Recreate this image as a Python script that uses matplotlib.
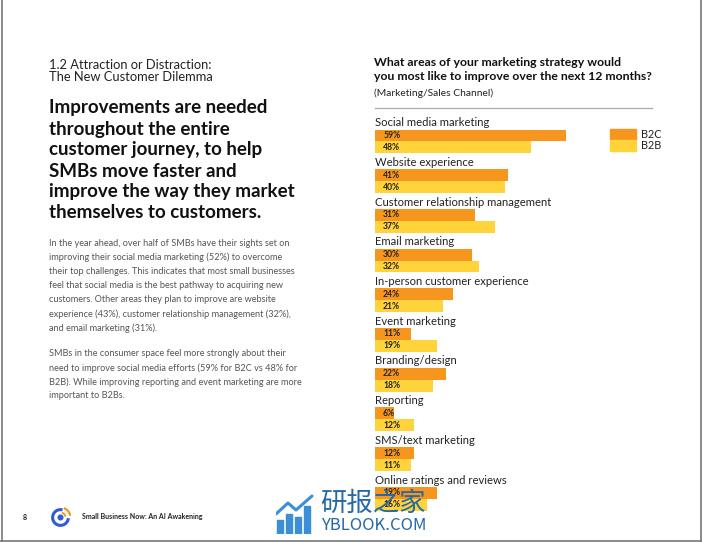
import matplotlib
matplotlib.use('Agg')
import matplotlib.pyplot as plt
import matplotlib.patches as mpatches
from matplotlib.lines import Line2D

W, H = 702, 542

# --- chart data
categories = ['Social media marketing', 'Website experience', 'Customer relationship management',
              'Email marketing', 'In-person customer experience', 'Event marketing',
              'Branding/design', 'Reporting', 'SMS/text marketing', 'Online ratings and reviews']
b2c = [59, 41, 31, 30, 24, 11, 22, 6, 12, 19]
b2b = [48, 40, 37, 32, 21, 19, 18, 12, 11, 16]
series_names = ['B2C', 'B2B']
series_colors = ['#F7961E', '#FFD43B']

# --- page text
section_title = ['1.2 Attraction or Distraction:', 'The New Customer Dilemma']
headline = ['Improvements are needed', 'throughout the entire', 'customer journey, to help',
            'SMBs move faster and', 'improve the way they market', 'themselves to customers.']
para1 = ['In the year ahead, over half of SMBs have their sights set on',
         'improving their social media marketing (52%) to overcome',
         'their top challenges. This indicates that most small businesses',
         'feel that social media is the best pathway to acquiring new',
         'customers. Other areas they plan to improve are website',
         'experience (43%), customer relationship management (32%),',
         'and email marketing (31%).']
para2 = ['SMBs in the consumer space feel more strongly about their',
         'need to improve social media efforts (59% for B2C vs 48% for',
         'B2B). While improving reporting and event marketing are more',
         'important to B2Bs.']
chart_title = ['What areas of your marketing strategy would',
               'you most like to improve over the next 12 months?']
chart_sub = '(Marketing/Sales Channel)'
footer = 'Small Business Now: An AI Awakening'

plt.rcParams['font.family'] = ['Lato', 'DejaVu Sans']


def fx(x):
    return x / W


def fy(y):
    return 1 - y / H


fig = plt.figure(figsize=(W / 100, H / 100), dpi=100)
fig.patch.set_facecolor('white')

### LEFT COLUMN TEXT
for i, line in enumerate(section_title):
    fig.text(fx(49), fy(65 + 12 * i), line, fontsize=9.3, color='#222222', va='center')
for i, line in enumerate(headline):
    fig.text(fx(49), fy(108 + 21 * i), line, fontsize=13.5, fontweight='bold',
             color='#111111', va='center')
for i, line in enumerate(para1):
    fig.text(fx(49), fy(243 + 14.2 * i), line, fontsize=6.6, color='#555555', va='center')
for i, line in enumerate(para2):
    fig.text(fx(49), fy(354 + 14 * i), line, fontsize=6.6, color='#555555', va='center')

### CHART
for i, line in enumerate(chart_title):
    fig.text(fx(374), fy(63 + 14 * i), line, fontsize=8.85, fontweight='bold',
             color='#111111', va='center')
fig.text(fx(374), fy(93), chart_sub, fontsize=7.4, color='#222222', va='center')

step = 39.7
y_top = (108 - 135.5) / step
y_bot = (540 - 135.5) / step
ax = fig.add_axes([fx(375), fy(540), 324 / W, 432 / H])
ax.set_xlim(0, 100)
ax.set_ylim(y_bot, y_top)
ax.axis('off')

bh = 0.30
ypos = list(range(len(categories)))
ax.barh([y for y in ypos], b2c, height=bh, color=series_colors[0], label=series_names[0])
ax.barh([y + bh for y in ypos], b2b, height=bh, color=series_colors[1], label=series_names[1])

for i, cat in enumerate(categories):
    ax.text(0, i - 0.32, cat, fontsize=8.1, color='#222222', va='center', ha='left')
    ax.text(2.5, i, f'{b2c[i]}%', fontsize=6.2, fontweight='bold', color='#222222',
            va='center', ha='left')
    ax.text(2.5, i + bh, f'{b2b[i]}%', fontsize=6.2, fontweight='bold', color='#222222',
            va='center', ha='left')

ax.axhline(y_top, xmin=0, xmax=(652 - 375) / 324, color='#aaaaaa', lw=0.9, clip_on=False)

handles = [mpatches.Patch(color=c) for c in series_colors]
ax.legend(handles, series_names, loc='upper left', bbox_to_anchor=(fx(610), fy(129)),
          bbox_transform=fig.transFigure, frameon=False, fontsize=7.8,
          handlelength=2.4, handleheight=1.1, labelspacing=0, borderpad=0,
          borderaxespad=0, handletextpad=0.45, labelcolor='#222222')

### FOOTER
fig.text(fx(23), fy(517), '8', fontsize=5, fontweight='bold', color='#222222', va='center')
fig.text(fx(82), fy(517), footer, fontsize=5, fontweight='bold', color='#222222', va='center')

lax = fig.add_axes([fx(50), fy(528), 21 / W, 21 / H])
lax.set_xlim(-1, 1)
lax.set_ylim(-1, 1)
lax.axis('off')
lax.add_patch(mpatches.Arc((0, 0), 1.5, 1.5, theta1=75, theta2=355, color='#2F5BD9', lw=2.2))
lax.add_patch(mpatches.Circle((0, 0), 0.22, color='#2F5BD9'))
lax.add_patch(mpatches.Arc((0, 0), 1.9, 1.9, theta1=10, theta2=70, color='#F7961E', lw=1.6))
lax.add_patch(mpatches.Arc((0, 0), 0.95, 0.95, theta1=10, theta2=75, color='#F7961E', lw=1.4))

### WATERMARK
wax = fig.add_axes([fx(276), fy(534), 40 / W, 40 / H])
wax.set_xlim(0, 40)
wax.set_ylim(0, 40)
wax.axis('off')
for bx, bhgt in zip([1, 10, 19, 28], [14, 20, 17, 28]):
    wax.add_patch(mpatches.Rectangle((bx, 0), 6, bhgt, color='#3C8FD6'))
wax.plot([0, 12, 20, 36], [20, 31, 24, 38], color='#3C8FD6', lw=2.2, solid_capstyle='round')
fig.text(fx(320), fy(503), '研报之家', fontsize=19, fontweight='medium', color='#2468A8',
         va='center', family=['Noto Sans CJK SC', 'DejaVu Sans'])
fig.text(fx(321), fy(525), 'YBLOOK.COM', fontsize=12, fontweight='medium', color='#2468A8',
         va='center', family=['Noto Sans CJK SC', 'DejaVu Sans'])

### PAGE BORDER
for xs, ys in [([1.5, 1.5], [0, 541]), ([700.5, 700.5], [0, 541]), ([0, 702], [540.5, 540.5])]:
    fig.add_artist(Line2D([fx(v) for v in xs], [fy(v) for v in ys], color='#777777', lw=1.2))

fig.savefig('out.png', dpi=100)
